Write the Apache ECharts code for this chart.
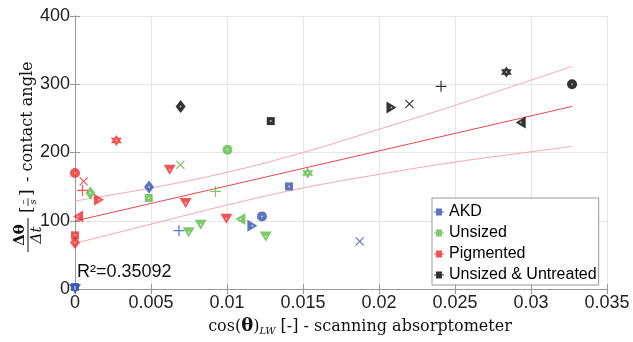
<!DOCTYPE html>
<html>
<head>
<meta charset="utf-8">
<script src="https://cdn.jsdelivr.net/npm/echarts@6/dist/echarts.min.js"></script>
<style>
  html, body { margin: 0; padding: 0; background: #fff; }
  #main { width: 633px; height: 342px; }
</style>
</head>
<body>
<div id="main"></div>
<script>
// 数据
// marker codes as in matlab: o s d v < > x + h
var akdX = [0, 0, 0.00487, 0.00684, 0.01167, 0.0123, 0.01408, 0.01873];
var akdY = [3, 0, 149.4, 85.4, 92.8, 106.4, 150.3, 69.8];
var akdMarker = ['s', 'v', 'd', '+', '>', 'o', 's', 'x'];

var unsizedX = [0.00101, 0.00485, 0.00693, 0.00748, 0.00827, 0.00924, 0.01003, 0.01088, 0.01255, 0.01531];
var unsizedY = [140.6, 133.3, 182, 83, 94.2, 143, 204, 102.6, 77, 169.9];
var unsizedMarker = ['d', 's', 'x', 'v', 'v', '+', 'o', '<', 'v', 'h'];

var pigX = [0, 0.00057, 0.00049, 0.00158, 0.0002, 0, 0, 0.00272, 0.00623, 0.00728, 0.00996];
var pigY = [169.9, 157.6, 144.4, 130.8, 106.4, 78.6, 68.3, 217.6, 174.7, 126, 103];
var pigMarker = ['o', 'x', '+', '>', '<', 's', 'd', 'h', 'v', 'v', 'v'];

var untreatedX = [0.00695, 0.01288, 0.02082, 0.0220, 0.02408, 0.02838, 0.02932, 0.0327];
var untreatedY = [267.3, 246, 266, 271.3, 297, 318, 244, 300];
var untreatedMarker = ['d', 's', '>', 'x', '+', 'h', '<', 'o'];

// fit line + confidence band
var fitX = [0, 0.0327];
var fitY = [99.7, 267.5];
var bandX = [0, 0.005, 0.01, 0.015, 0.02, 0.025, 0.03, 0.0327];
var bandUpper = [129, 148, 171, 200, 234, 269, 306, 326];
var bandLower = [67, 95, 123, 148, 168, 186, 201, 209];

var rSquared = 'R²=0.35092';
var groupNames = ['AKD', 'Unsized', 'Pigmented', 'Unsized & Untreated'];

// 样式
var colors = ['#3352B0', '#5DBB46', '#EE2B2B', '#000000'];
var sansFont = '"Liberation Sans", Arial, sans-serif';
var serifFont = '"DejaVu Serif", serif';

var markerShape = {
	'o': 'circle',
	's': 'rect',
	'd': 'diamond',
	'v': 'path://M0,0L12,0L6,10Z',
	'<': 'path://M0,6L10,0L10,12Z',
	'>': 'path://M0,0L10,6L0,12Z',
	'x': 'path://M0,0L10,10M10,0L0,10',
	'+': 'path://M5,0L5,10M0,5L10,5',
	'h': 'path://M5,0L9.33,7.5L0.67,7.5ZM5,10L0.67,2.5L9.33,2.5Z'
};
var markerSize = {
	'o': 10, 's': 8, 'd': [10, 13], 'v': [12, 10], '<': [10, 12], '>': [10, 12],
	'x': 8, '+': 11, 'h': 11
};

function pointsOf(xs, ys, marks, color) {
	var res = [];
	for (var i = 0; i < xs.length; i++) {
		var m = marks[i];
		var open = (m === 'x' || m === '+');
		res.push({
			value: [xs[i], ys[i]],
			symbol: markerShape[m],
			symbolSize: markerSize[m],
			itemStyle: open ? { color: 'transparent', borderColor: color, borderWidth: 1.2 } : { color: color }
		});
	}
	return res;
}

// small light dot in the middle of filled markers
function dotsOf(xs, ys, marks) {
	var res = [];
	for (var i = 0; i < xs.length; i++) {
		if (marks[i] !== 'x' && marks[i] !== '+') res.push([xs[i], ys[i]]);
	}
	return res;
}

function pairs(xs, ys) {
	var res = [];
	for (var i = 0; i < xs.length; i++) res.push([xs[i], ys[i]]);
	return res;
}

var allX = [akdX, unsizedX, pigX, untreatedX];
var allY = [akdY, unsizedY, pigY, untreatedY];
var allM = [akdMarker, unsizedMarker, pigMarker, untreatedMarker];

var series = [
	{ type: 'line', data: pairs(bandX, bandUpper), symbol: 'none', smooth: 0.4, lineStyle: { color: '#F5A9AC', width: 1 }, silent: true },
	{ type: 'line', data: pairs(bandX, bandLower), symbol: 'none', smooth: 0.4, lineStyle: { color: '#F5A9AC', width: 1 }, silent: true },
	{ type: 'line', data: pairs(fitX, fitY), symbol: 'none', lineStyle: { color: '#E9474B', width: 1 }, silent: true }
];
var dots = [];
for (var g = 0; g < 4; g++) {
	series.push({
		name: groupNames[g],
		type: 'scatter',
		data: pointsOf(allX[g], allY[g], allM[g], colors[g]),
		itemStyle: { color: colors[g] },
		z: 3
	});
	dots = dots.concat(dotsOf(allX[g], allY[g], allM[g]));
}
series.push({
	type: 'scatter', data: dots, symbol: 'circle', symbolSize: 2,
	itemStyle: { color: 'rgba(255,255,255,0.75)' }, z: 4, silent: true
});

var frame = '#9a9a9a';

var myChart = echarts.init(document.getElementById('main'));
var option = {
	animation: false,
	backgroundColor: '#fff',
	grid: { left: 75, right: 26, top: 16, bottom: 53 },
	legend: {
		data: groupNames,
		orient: 'vertical',
		left: 432, top: 198,
		padding: [6, 2, 2, 2],
		itemGap: 5,
		itemWidth: 10, itemHeight: 7,
		icon: 'path://M0,3H2V0H8V3H10V4H8V7H2V4H0Z',
		backgroundColor: '#fff',
		borderColor: '#999', borderWidth: 1,
		textStyle: { fontFamily: sansFont, fontSize: 16, lineHeight: 16, color: '#000' }
	},
	xAxis: [{
		type: 'value', min: 0, max: 0.035, interval: 0.005,
		axisLine: { show: true, lineStyle: { color: frame } },
		axisTick: { show: true, inside: true, length: 5, lineStyle: { color: frame } },
		splitLine: { show: true, lineStyle: { color: '#e6e6e6' } },
		axisLabel: {
			margin: 5, fontFamily: sansFont, fontSize: 18, color: '#222',
			formatter: function (v) { return String(parseFloat(v.toFixed(3))); }
		},
		name: '{a|cos(}{t|θ}{a|)}{s|LW}{a| [-] - scanning absorptometer}',
		nameLocation: 'middle',
		nameGap: 28,
		nameTextStyle: {
			padding: [0, 0, 0, 38],
			rich: {
				a: { fontFamily: serifFont, fontSize: 16, color: '#111' },
				t: { fontFamily: serifFont, fontSize: 18, fontWeight: 'bold', color: '#111' },
				s: { fontFamily: serifFont, fontSize: 10, fontStyle: 'italic', color: '#111', padding: [9, 0, 0, 0] }
			}
		}
	}, {
		type: 'value', min: 0, max: 0.035, interval: 0.005, position: 'top',
		axisLine: { show: true, lineStyle: { color: frame } },
		axisTick: { show: true, inside: true, length: 5, lineStyle: { color: frame } },
		axisLabel: { show: false }, splitLine: { show: false }
	}],
	yAxis: [{
		type: 'value', min: 0, max: 400, interval: 100,
		axisLine: { show: true, lineStyle: { color: frame } },
		axisTick: { show: true, inside: true, length: 5, lineStyle: { color: frame } },
		splitLine: { show: true, lineStyle: { color: '#e6e6e6' } },
		axisLabel: { margin: 5, fontFamily: sansFont, fontSize: 18, color: '#222' }
	}, {
		type: 'value', min: 0, max: 400, interval: 100, position: 'right',
		axisLine: { show: true, lineStyle: { color: frame } },
		axisTick: { show: true, inside: true, length: 5, lineStyle: { color: frame } },
		axisLabel: { show: false }, splitLine: { show: false }
	}],
	graphic: [
		{
			type: 'text', left: 77, top: 263, z: 10,
			style: { text: rSquared, font: '18px ' + sansFont, fill: '#111' }
		},
		{
			// rotated y title, drawn from the bottom up
			type: 'group', x: 28, y: 253, rotation: Math.PI / 2, z: 10,
			children: [
				{ type: 'text', x: 18, y: -8, style: { text: 'Δθ', font: 'bold 15px ' + serifFont, fill: '#111', align: 'center', verticalAlign: 'middle' } },
				{ type: 'line', shape: { x1: 1, y1: 0, x2: 35, y2: 0 }, style: { stroke: '#111', lineWidth: 1 } },
				{ type: 'text', x: 18, y: 9, style: { text: 'Δt', font: 'italic 15px ' + serifFont, fill: '#111', align: 'center', verticalAlign: 'middle' } },
				{ type: 'text', x: 40, y: 0, style: { text: '[', font: '17px ' + serifFont, fill: '#111', align: 'left', verticalAlign: 'middle' } },
				{ type: 'text', x: 51, y: -5, style: { text: '–', font: '10px ' + serifFont, fill: '#111', align: 'center', verticalAlign: 'middle' } },
				{ type: 'line', shape: { x1: 47, y1: 0, x2: 55, y2: 0 }, style: { stroke: '#111', lineWidth: 0.8 } },
				{ type: 'text', x: 51, y: 5, style: { text: 's', font: 'italic 10px ' + serifFont, fill: '#111', align: 'center', verticalAlign: 'middle' } },
				{ type: 'text', x: 57, y: 0, style: { text: ']', font: '17px ' + serifFont, fill: '#111', align: 'left', verticalAlign: 'middle' } },
				{ type: 'text', x: 71, y: 0, style: { text: '- contact angle', font: '16px ' + serifFont, fill: '#111', align: 'left', verticalAlign: 'middle' } }
			]
		}
	],
	series: series
};
myChart.setOption(option);
</script>
</body>
</html>
